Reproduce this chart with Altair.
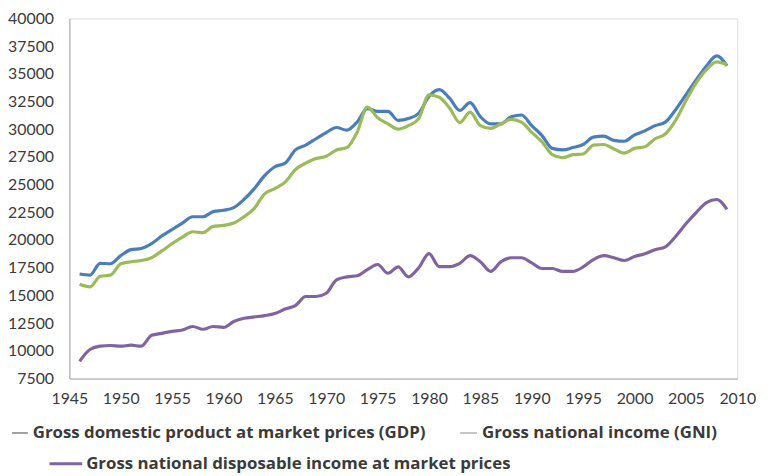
import altair as alt
import pandas as pd

years = list(range(1946, 2010))

gdp = [16930, 16830, 17900, 17860, 18590, 19130, 19240, 19670, 20370, 20950,
       21530, 22100, 22100, 22560, 22680, 22920, 23660, 24640, 25810, 26610,
       26940, 28130, 28560, 29140, 29700, 30150, 29910, 30640, 31860, 31610,
       31610, 30800, 30960, 31440, 32960, 33570, 32800, 31700, 32400, 31130,
       30480, 30480, 31130, 31280, 30320, 29420, 28270, 28130, 28340, 28620,
       29280, 29370, 28990, 28910, 29480, 29850, 30320, 30640, 31760, 33100,
       34440, 35710, 36610, 35710]

gni = [16000, 15770, 16730, 16830, 17860, 18040, 18150, 18400, 19020, 19670,
       20260, 20750, 20660, 21230, 21320, 21530, 22100, 22860, 24170, 24640,
       25220, 26350, 26940, 27350, 27560, 28130, 28340, 29710, 31990, 31030,
       30480, 30000, 30320, 30960, 33100, 32880, 31920, 30600, 31540, 30320,
       30070, 30480, 30890, 30640, 29710, 28850, 27700, 27420, 27700, 27760,
       28560, 28620, 28220, 27840, 28270, 28410, 29140, 29570, 30800, 32560,
       34170, 35380, 36070, 35830]

gndi = [9050, 10120, 10420, 10480, 10420, 10510, 10420, 11400, 11580, 11760,
        11880, 12200, 11950, 12200, 12120, 12650, 12940, 13060, 13180, 13360,
        13770, 14080, 14900, 14900, 15200, 16400, 16670, 16770, 17330, 17790,
        17000, 17570, 16670, 17500, 18770, 17600, 17600, 17900, 18590, 18040,
        17170, 18040, 18400, 18400, 17930, 17430, 17430, 17170, 17170, 17570,
        18230, 18590, 18400, 18150, 18510, 18770, 19130, 19380, 20320, 21460,
        22470, 23380, 23660, 22770]

series_names = [
    "Gross domestic product at market prices (GDP)",
    "Gross national income (GNI)",
    "Gross national disposable income at market prices",
]
series_colors = ["#4a7ebb", "#9bbb59", "#8064a2"]
legend_marker_colors = ["#a0a0a0", "#c4c4c4", "#8064a2"]

y_ticks = [7500, 10000, 12500, 15000, 17500, 20000, 22500, 25000, 27500,
           30000, 32500, 35000, 37500, 40000]
x_ticks = [1945, 1950, 1955, 1960, 1965, 1970, 1975, 1980, 1985, 1990,
           1995, 2000, 2005, 2010]

rows = []
for name, vals in zip(series_names, [gdp, gni, gndi]):
    for yr, v in zip(years, vals):
        rows.append({"year": yr, "value": v, "series": name})
df = pd.DataFrame(rows)

AXFONT = "Lato"
LEGFONT = "Open Sans"
TXT = "#3a3a3a"

lines = alt.Chart(df).mark_line(strokeWidth=3.2, interpolate="monotone").encode(
    x=alt.X("year:Q", scale=alt.Scale(domain=[1945, 2010], nice=False),
            axis=alt.Axis(values=x_ticks, format="d", title=None, grid=False,
                          ticks=False, labelPadding=12, labelFontSize=16,
                          labelFont=AXFONT, labelColor=TXT, domainColor="#a6a6a6",
                          labelFlush=False)),
    y=alt.Y("value:Q", scale=alt.Scale(domain=[7500, 40000], nice=False, zero=False),
            axis=alt.Axis(values=y_ticks, format="d", title=None, grid=False,
                          ticks=False, labelPadding=16, labelFontSize=16,
                          labelFont=AXFONT, labelColor=TXT, domainColor="#a6a6a6",
                          labelFlush=False)),
    color=alt.Color("series:N", scale=alt.Scale(domain=series_names, range=series_colors),
                    legend=None),
    order=alt.Order("year:Q"),
)

def legend_item(name, color, width, x1, x2, tx, y):
    marker = alt.Chart(pd.DataFrame({"n": [name]})).mark_rule(
        color=color, strokeWidth=width).encode(
        x=alt.value(x1), x2=alt.value(x2), y=alt.value(y))
    text = alt.Chart(pd.DataFrame({"n": [name]})).mark_text(
        align="left", baseline="middle", font=LEGFONT, fontSize=17, fontWeight="bold",
        color=TXT).encode(text="n:N", x=alt.value(tx), y=alt.value(y))
    return marker + text

leg1 = legend_item(series_names[0], legend_marker_colors[0], 2, -58, -42, -37, 419)
leg2 = legend_item(series_names[1], legend_marker_colors[1], 2, 395, 412, 417, 419)
leg3 = legend_item(series_names[2], legend_marker_colors[2], 3, -20, 13, 17, 450)

chart = alt.layer(lines, leg1, leg2, leg3).properties(
    width=675, height=364,
    autosize=alt.AutoSizeParams(type="none"),
    padding={"left": 62, "top": 8, "right": 25, "bottom": 96},
).configure_view(stroke=None).configure(background="white")

chart.save("out.html", embed_options={"renderer": "svg", "actions": False})
